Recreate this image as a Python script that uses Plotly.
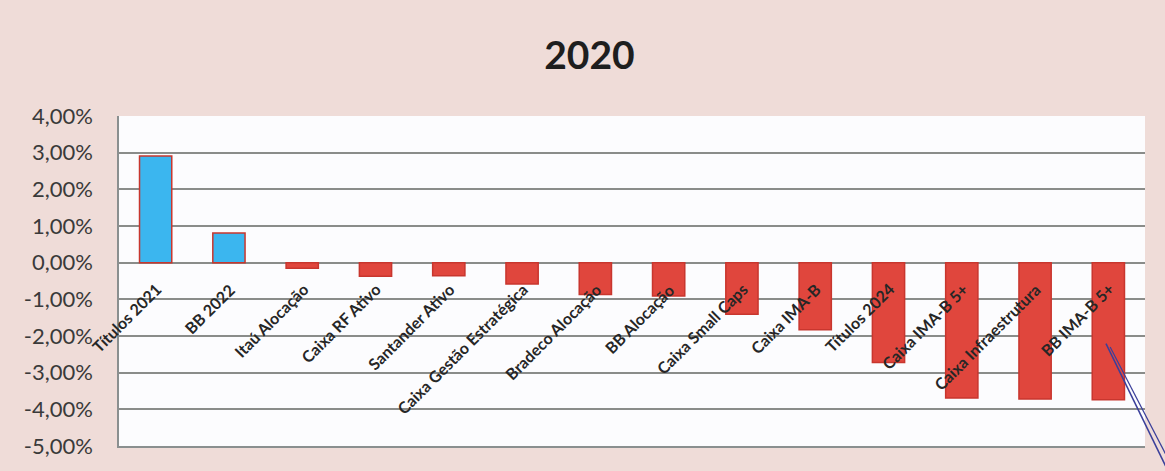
import plotly.graph_objects as go

categories = ["Títulos 2021", "BB 2022", "Itaú Alocação", "Caixa RF Ativo", "Santander Ativo",
              "Caixa Gestão Estratégica", "Bradeco Alocação", "BB Alocação", "Caixa Small Caps",
              "Caixa IMA-B", "Títulos 2024", "Caixa IMA-B 5+", "Caixa Infraestrutura", "BB IMA-B 5+"]
values = [2.91, 0.81, -0.15, -0.37, -0.36, -0.58, -0.87, -0.91, -1.41, -1.83, -2.72, -3.69, -3.72, -3.74]
ytick_vals = [4, 3, 2, 1, 0, -1, -2, -3, -4, -5]
ytick_text = ["4,00%", "3,00%", "2,00%", "1,00%", "0,00%", "-1,00%", "-2,00%", "-3,00%", "-4,00%", "-5,00%"]

colors = ["#3BB6EF" if v >= 0 else "#E0463D" for v in values]

fig = go.Figure()
fig.add_trace(go.Bar(
    x=categories, y=values, marker=dict(color=colors, line=dict(color="#C8362E", width=1.5)),
    width=0.44, showlegend=False,
))

for c in categories:
    fig.add_annotation(x=c, y=0, xref="x", yref="y", text="<b>%s</b>" % c, showarrow=False,
                       textangle=-45, xanchor="right", yanchor="top", xshift=12, yshift=-14,
                       font=dict(family="Lato, Open Sans, sans-serif", size=16, color="#262626"))

# pen mark on the scanned page
fig.add_shape(type="line", xref="paper", yref="paper", x0=0.962, y0=0.31, x1=1.02, y1=-0.06,
              line=dict(color="#3A3F9A", width=1.5))
fig.add_shape(type="line", xref="paper", yref="paper", x0=0.966, y0=0.30, x1=1.026, y1=-0.06,
              line=dict(color="#3A3F9A", width=1.2))

fig.update_layout(
    width=1165, height=471,
    margin=dict(l=119, r=20, t=116, b=19),
    paper_bgcolor="#EFDCD8",
    plot_bgcolor="#FCFCFE",
    title=dict(text="<b>2020</b>", x=0.506, xref="container", y=0.883, yref="container",
               xanchor="center", yanchor="middle",
               font=dict(family="Lato, Open Sans, sans-serif", size=39, color="#1e1e1e")),
    xaxis=dict(range=[-0.5, len(categories) - 0.5], showticklabels=False, showgrid=False,
               zeroline=False, showline=True, linecolor="#8a8f8f", linewidth=1.5, ticks=""),
    yaxis=dict(range=[-5, 4], tickvals=ytick_vals, ticktext=ytick_text,
               showgrid=True, gridcolor="#8a8c8a", gridwidth=1.5,
               zeroline=True, zerolinecolor="#8a8c8a", zerolinewidth=1.5,
               showline=True, linecolor="#8a8f8f", linewidth=1.5, ticks="", ticklen=0,
               tickfont=dict(family="Lato, Open Sans, sans-serif", size=22, color="#3a3a3a")),
)
fig.update_yaxes(ticklabelstandoff=20)

fig.write_html("out.html", config={"displayModeBar": False},
               post_script="document.body.style.margin='0';document.body.style.overflow='hidden';")
